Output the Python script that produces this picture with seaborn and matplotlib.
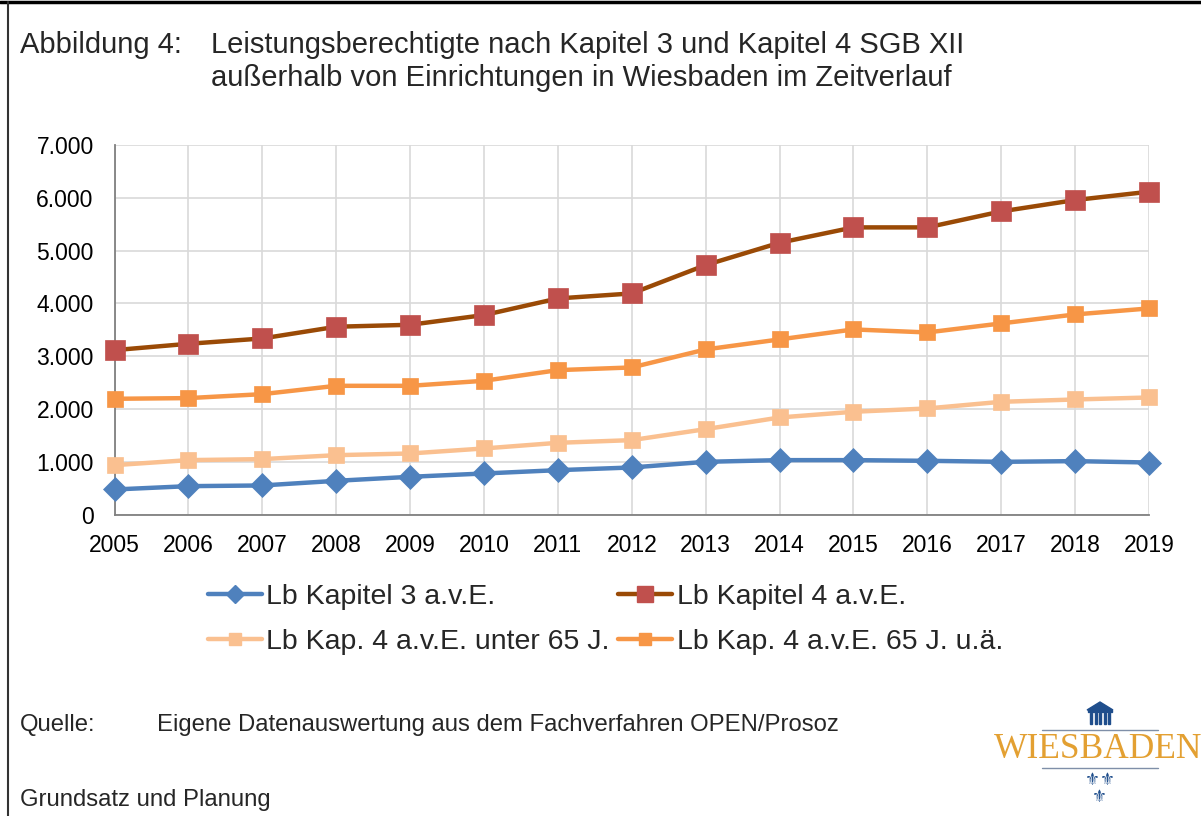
import numpy as np
import pandas as pd
import seaborn as sns
import matplotlib
matplotlib.use("Agg")
import matplotlib.pyplot as plt
from matplotlib.ticker import FuncFormatter
from matplotlib.lines import Line2D
from matplotlib.patches import Rectangle, Polygon

years = list(range(2005, 2020))
kap3 = [474, 537, 550, 638, 714, 777, 840, 891, 998, 1030, 1030, 1017, 998, 1011, 985]
kap4 = [3114, 3234, 3335, 3557, 3594, 3778, 4093, 4188, 4725, 5148, 5439, 5439, 5742, 5957, 6115]
kap4_u65 = [935, 1030, 1049, 1124, 1156, 1251, 1358, 1409, 1617, 1838, 1946, 2009, 2135, 2179, 2217]
kap4_65 = [2192, 2205, 2280, 2438, 2438, 2533, 2735, 2786, 3127, 3317, 3506, 3449, 3620, 3790, 3904]

labels = ["Lb Kapitel 3 a.v.E.", "Lb Kapitel 4 a.v.E.",
          "Lb Kap. 4 a.v.E. unter 65 J.", "Lb Kap. 4 a.v.E. 65 J. u.ä."]
yticks = [0, 1000, 2000, 3000, 4000, 5000, 6000, 7000]

sns.set_theme(style="white")
plt.rcParams['font.family'] = ['Liberation Sans', 'DejaVu Sans']

W, H = 1201, 816
fig = plt.figure(figsize=(W / 100, H / 100), dpi=100)
ax = fig.add_axes([114.5 / W, 1 - 514.5 / H, (1149 - 114.5) / W, (514.5 - 145) / H])

series = [
    (kap3, labels[0], "#4F81BD", "#4F81BD", "D", 12.5, 9),
    (kap4, labels[1], "#9A4A06", "#C0504D", "s", 14, 11),
    (kap4_u65, labels[2], "#FAC090", "#FAC090", "s", 11.5, 9),
    (kap4_65, labels[3], "#F79646", "#F79646", "s", 11.5, 9),
]
draw_order = [2, 3, 0, 1]
handles = {}
for i in draw_order:
    vals, lab, lc, mc, mk, ms, lms = series[i]
    df = pd.DataFrame({"Jahr": years, "Wert": vals})
    sns.lineplot(data=df, x="Jahr", y="Wert", ax=ax, color=lc, linewidth=3.2,
                 marker=mk, markersize=ms, markerfacecolor=mc, markeredgecolor=mc,
                 markeredgewidth=0.5, clip_on=False, zorder=3 + i)
    handles[i] = Line2D([0], [0], color=lc, linewidth=3.2, marker=mk, markersize=lms,
                        markerfacecolor=mc, markeredgecolor=mc, solid_capstyle="round")

ax.set_xlim(2005, 2019)
ax.set_ylim(0, 7000)
ax.set_xticks(years)
ax.set_yticks(yticks)
ax.yaxis.set_major_formatter(FuncFormatter(lambda v, p: f"{int(v):,}".replace(",", ".")))
ax.grid(True, color="#D9D9D9", linewidth=1.2, zorder=0)
ax.set_axisbelow(True)
for s in ["top", "right"]:
    ax.spines[s].set_visible(False)
for s in ["left", "bottom"]:
    ax.spines[s].set_color("#808080")
    ax.spines[s].set_linewidth(1.3)
ax.tick_params(axis="both", labelsize=16.5, colors="black", length=0)
ax.tick_params(axis="x", pad=14)
ax.tick_params(axis="y", pad=15)
ax.set_xlabel("")
ax.set_ylabel("")
if ax.get_legend():
    ax.get_legend().remove()

order = [0, 2, 1, 3]
fig.legend([handles[i] for i in order], [labels[i] for i in order], ncol=2, loc="center",
           bbox_to_anchor=(605.5 / W, 1 - 619.5 / H), frameon=False, fontsize=20.5,
           handlelength=1.9, handletextpad=0.15, columnspacing=0.3,
           labelspacing=0.68)

# Title
fs_title = 21
fig.text(20 / W, 1 - 45 / H, "Abbildung 4:", fontsize=fs_title, va="center", ha="left")
fig.text(211 / W, 1 - 45 / H, "Leistungsberechtigte nach Kapitel 3 und Kapitel 4 SGB XII",
         fontsize=fs_title, va="center", ha="left")
fig.text(211 / W, 1 - 78 / H, "außerhalb von Einrichtungen in Wiesbaden im Zeitverlauf",
         fontsize=fs_title, va="center", ha="left")

# Footer
fig.text(20 / W, 1 - 725 / H, "Quelle:", fontsize=17.2, va="center", ha="left")
fig.text(157 / W, 1 - 725 / H, "Eigene Datenauswertung aus dem Fachverfahren OPEN/Prosoz",
         fontsize=17.2, va="center", ha="left")
fig.text(20 / W, 1 - 800 / H, "Grundsatz und Planung", fontsize=17.2, va="center", ha="left")

# Frame lines
fig.add_artist(Line2D([0, 1], [1 - 1.5 / H, 1 - 1.5 / H], color="black", linewidth=2.5,
                      transform=fig.transFigure))
fig.add_artist(Line2D([8 / W, 8 / W], [0, 1 - 1.5 / H], color="#333333", linewidth=1.5,
                      transform=fig.transFigure))

# Logo
navy = "#1F4E8C"
gold = "#E3A032"
fig.text(1098 / W, 1 - 750 / H, "WIESBADEN", fontsize=25.5, color=gold,
         family="Liberation Serif", va="center", ha="center")
for yy in [730, 768]:
    fig.add_artist(Line2D([1042 / W, 1158 / W], [1 - yy / H, 1 - yy / H],
                          color="#7F8FA8", linewidth=1.0, transform=fig.transFigure))
fig.add_artist(Polygon([[1100 / W, 1 - 702 / H], [1113 / W, 1 - 710 / H],
                        [1087 / W, 1 - 710 / H]], closed=True, color=navy,
                       transform=fig.transFigure))
fig.add_artist(Rectangle((1088 / W, 1 - 712 / H), 24 / W, 2 / H, color=navy,
                         transform=fig.transFigure))
for k in range(5):
    xx = 1090 + k * 4.5
    fig.add_artist(Rectangle((xx / W, 1 - 724 / H), 2 / W, 11 / H, color=navy,
                             transform=fig.transFigure))
for (fx, fy) in [(1092, 780), (1107, 780), (1099, 797)]:
    fig.text(fx / W, 1 - fy / H, "⚜", fontsize=12, color=navy, family="DejaVu Sans",
             va="center", ha="center")

fig.savefig("out.png", dpi=100, facecolor="white")
